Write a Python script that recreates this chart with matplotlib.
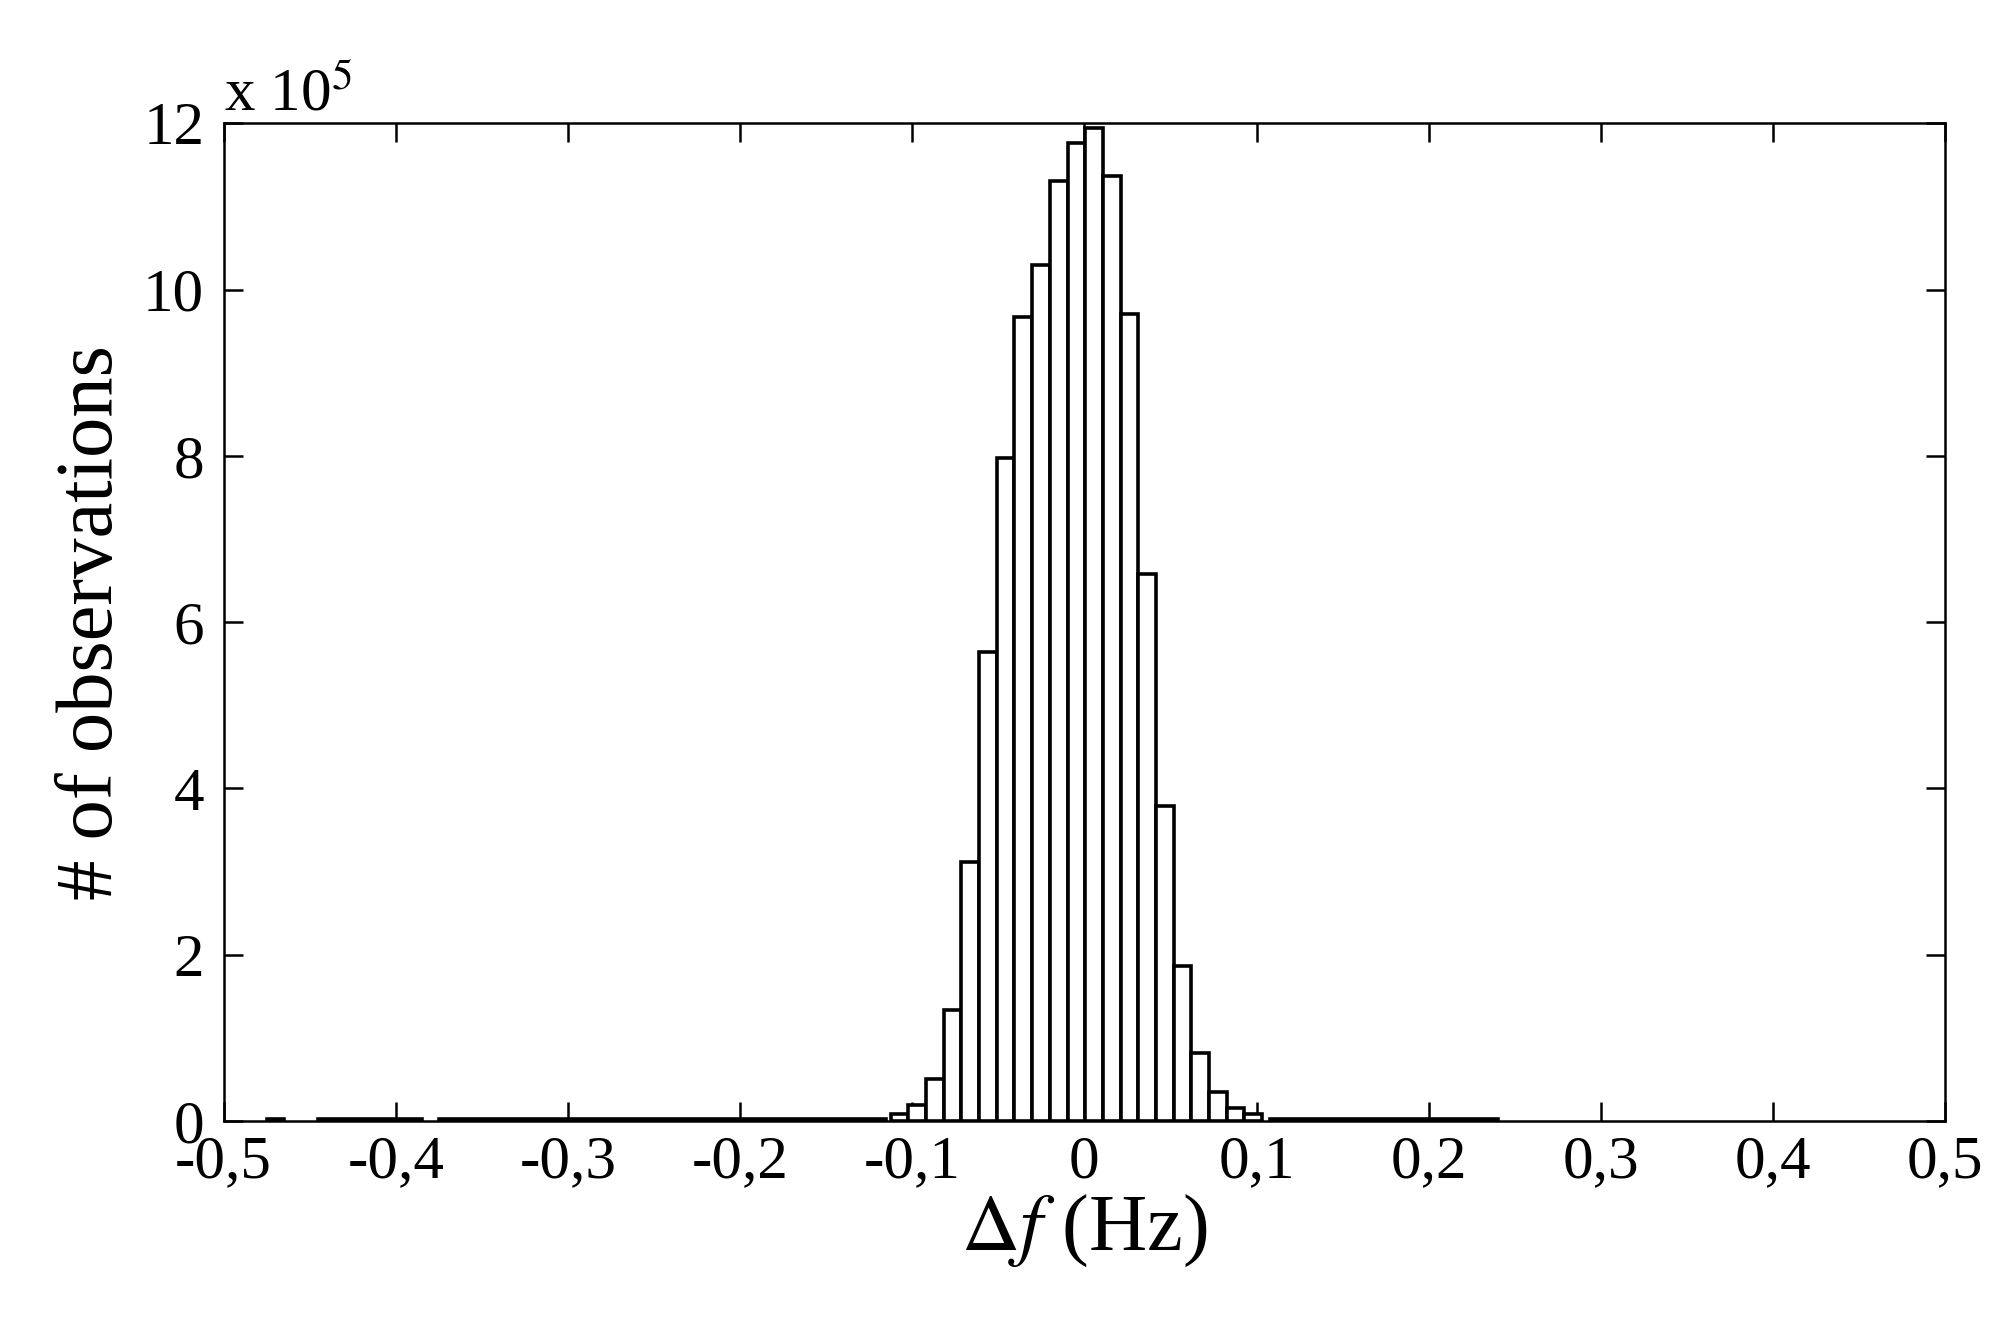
import numpy as np
import matplotlib
matplotlib.use("Agg")
import matplotlib.pyplot as plt

plt.rcParams["font.family"] = ["Liberation Serif", "DejaVu Serif"]
plt.rcParams["mathtext.fontset"] = "stix"

# central histogram bins (Hz) and counts (x 1e5)
BIN_LEFT = -0.1125
BIN_WIDTH = 0.01027
counts = [0.08, 0.19, 0.50, 1.33, 3.11, 5.64, 7.97, 9.67, 10.30, 11.30, 11.76,
          11.94, 11.37, 9.70, 6.58, 3.79, 1.86, 0.82, 0.35, 0.16, 0.08]

# sparse tail spans: (start, end, height x 1e5)
tail_start = [-0.475, -0.445, -0.375, 0.108]
tail_end = [-0.465, -0.385, -0.115, 0.240]
tail_height = [0.025, 0.02, 0.02, 0.02]

fig = plt.figure(figsize=(19.97, 13.25), dpi=100)
ax = fig.add_axes([0.112, 0.154, 0.862, 0.753])

lefts = BIN_LEFT + BIN_WIDTH * np.arange(len(counts))
ax.bar(lefts, np.array(counts) * 1e5, width=BIN_WIDTH, align="edge",
       facecolor="white", edgecolor="black", linewidth=2.6, zorder=2)
for s, e, h in zip(tail_start, tail_end, tail_height):
    ax.bar(s, h * 1e5, width=e - s, align="edge", facecolor="white",
           edgecolor="black", linewidth=2.6, zorder=2)

ax.set_xlim(-0.5, 0.5)
ax.set_ylim(0, 12e5)
xt = np.arange(-0.5, 0.51, 0.1)
ax.set_xticks(xt)
ax.set_xticklabels([("%.1f" % v).replace(".", ",") if abs(v) > 1e-9 else "0"
                    for v in xt])
ax.set_yticks(np.arange(0, 12.1, 2) * 1e5)
ax.set_yticklabels([str(int(v)) for v in np.arange(0, 12.1, 2)])
ax.tick_params(direction="in", length=14, width=1.8, labelsize=44,
               top=True, right=True)
ax.tick_params(axis="x", pad=10)
ax.tick_params(axis="y", pad=14)
for sp in ax.spines.values():
    sp.set_linewidth(1.8)

ax.text(0.0, 1.0, r"x 10$^{5}$", transform=ax.transAxes, fontsize=44,
        ha="left", va="bottom")
ax.set_xlabel(r"$\Delta f$ (Hz)", fontsize=58, labelpad=2)
ax.set_ylabel("# of observations", fontsize=58, labelpad=10)

fig.savefig("out.png", dpi=100)
